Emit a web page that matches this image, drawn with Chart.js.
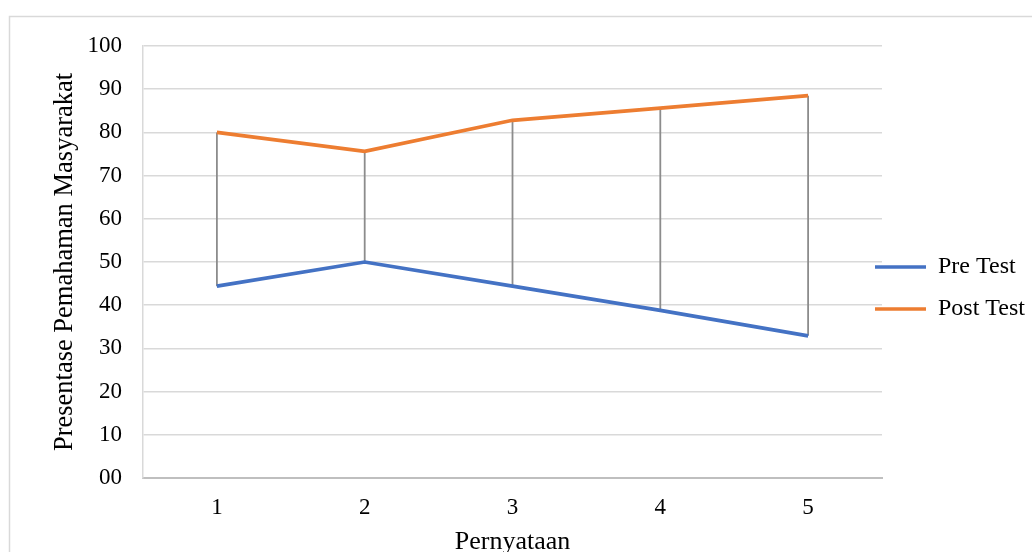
<!DOCTYPE html>
<html>
<head>
<meta charset="utf-8">
<script src="https://cdn.jsdelivr.net/npm/chart.js@4/dist/chart.umd.min.js"></script>
<style>
html, body { margin: 0; padding: 0; background: #ffffff; }
#wrap { width: 1032px; height: 552px; }
</style>
</head>
<body>
<div id="wrap"><canvas id="c" width="1032" height="552"></canvas></div>
<script>
const categories = ['1', '2', '3', '4', '5'];
const preTest = [44.4, 50.0, 44.4, 38.8, 32.9];
const postTest = [80.0, 75.6, 82.8, 85.6, 88.5];
const seriesNames = ['Pre Test', 'Post Test'];
const yTickLabels = ['00', '10', '20', '30', '40', '50', '60', '70', '80', '90', '100'];
const xTitle = 'Pernyataan';
const yTitle = 'Presentase Pemahaman Masyarakat';

const FONT = "'Liberation Serif', 'Times New Roman', serif";

const frame = {
  id: 'frame',
  beforeDraw(chart) {
    const ctx = chart.ctx;
    ctx.save();
    ctx.fillStyle = '#ffffff';
    ctx.fillRect(0, 0, chart.width, chart.height);
    ctx.strokeStyle = '#d9d9d9';
    ctx.lineWidth = 1.5;
    ctx.strokeRect(9.5, 16.5, 1040, 560);
    ctx.restore();
  }
};

const hiLo = {
  id: 'hiLo',
  beforeDatasetsDraw(chart) {
    const ctx = chart.ctx;
    const xs = chart.scales.x, ys = chart.scales.y;
    ctx.save();
    ctx.strokeStyle = '#8c8c8c';
    ctx.lineWidth = 1.8;
    for (let i = 0; i < categories.length; i++) {
      const x = xs.getPixelForValue(i);
      const hi = Math.max(preTest[i], postTest[i]);
      const lo = Math.min(preTest[i], postTest[i]);
      ctx.beginPath();
      ctx.moveTo(x, ys.getPixelForValue(hi));
      ctx.lineTo(x, ys.getPixelForValue(lo));
      ctx.stroke();
    }
    ctx.restore();
  }
};

const legendPlace = {
  id: 'legendPlace',
  afterLayout(chart) {
    const lg = chart.legend;
    if (!lg) return;
    lg.left = 857;
    lg.right = 1032;
    lg.top = 237;
    lg.bottom = 552;
  }
};

new Chart(document.getElementById('c'), {
  type: 'line',
  data: {
    labels: categories,
    datasets: [
      { label: seriesNames[0], data: preTest, borderColor: '#4472c4', backgroundColor: '#4472c4',
        borderWidth: 3.7, pointRadius: 0, pointHoverRadius: 0, tension: 0, fill: false },
      { label: seriesNames[1], data: postTest, borderColor: '#ed7d31', backgroundColor: '#ed7d31',
        borderWidth: 3.7, pointRadius: 0, pointHoverRadius: 0, tension: 0, fill: false }
    ]
  },
  options: {
    responsive: false,
    devicePixelRatio: 1,
    animation: false,
    layout: { padding: { left: 0, top: 46, right: 0, bottom: 0 } },
    plugins: {
      tooltip: { enabled: false },
      legend: {
        position: 'right',
        align: 'start',
        maxWidth: 150,
        labels: {
          boxWidth: 51,
          boxHeight: 3.7,
          padding: 18,
          color: '#000000',
          font: { family: FONT, size: 24 },
          generateLabels(chart) {
            return chart.data.datasets.map((ds, i) => ({
              text: ds.label, fillStyle: ds.borderColor, strokeStyle: ds.borderColor,
              lineWidth: 0, hidden: false, datasetIndex: i, fontColor: '#000000'
            }));
          }
        }
      }
    },
    scales: {
      x: {
        offset: true,
        grid: { display: false, drawTicks: false },
        border: { display: true, color: '#bfbfbf', width: 2 },
        ticks: { color: '#000000', padding: 16, font: { family: FONT, size: 23 } },
        title: { display: true, text: xTitle, color: '#000000',
                 font: { family: FONT, size: 26, lineHeight: 1.2 }, padding: { top: 0, bottom: -6 } },
        afterFit(s) { s.height = 74; }
      },
      y: {
        min: 0, max: 100,
        grid: { color: '#d9d9d9', lineWidth: 1.5, drawTicks: false },
        border: { display: true, color: '#d9d9d9', width: 1.5 },
        ticks: {
          stepSize: 10, color: '#000000', padding: 21,
          font: { family: FONT, size: 23 },
          callback: (v, i) => yTickLabels[i]
        },
        title: { display: true, text: yTitle, color: '#000000',
                 font: { family: FONT, size: 26.5, lineHeight: 1.2 }, padding: { top: 49, bottom: 0 } },
        afterFit(s) { s.width = 143; }
      }
    }
  },
  plugins: [frame, hiLo, legendPlace]
});
</script>
</body>
</html>
